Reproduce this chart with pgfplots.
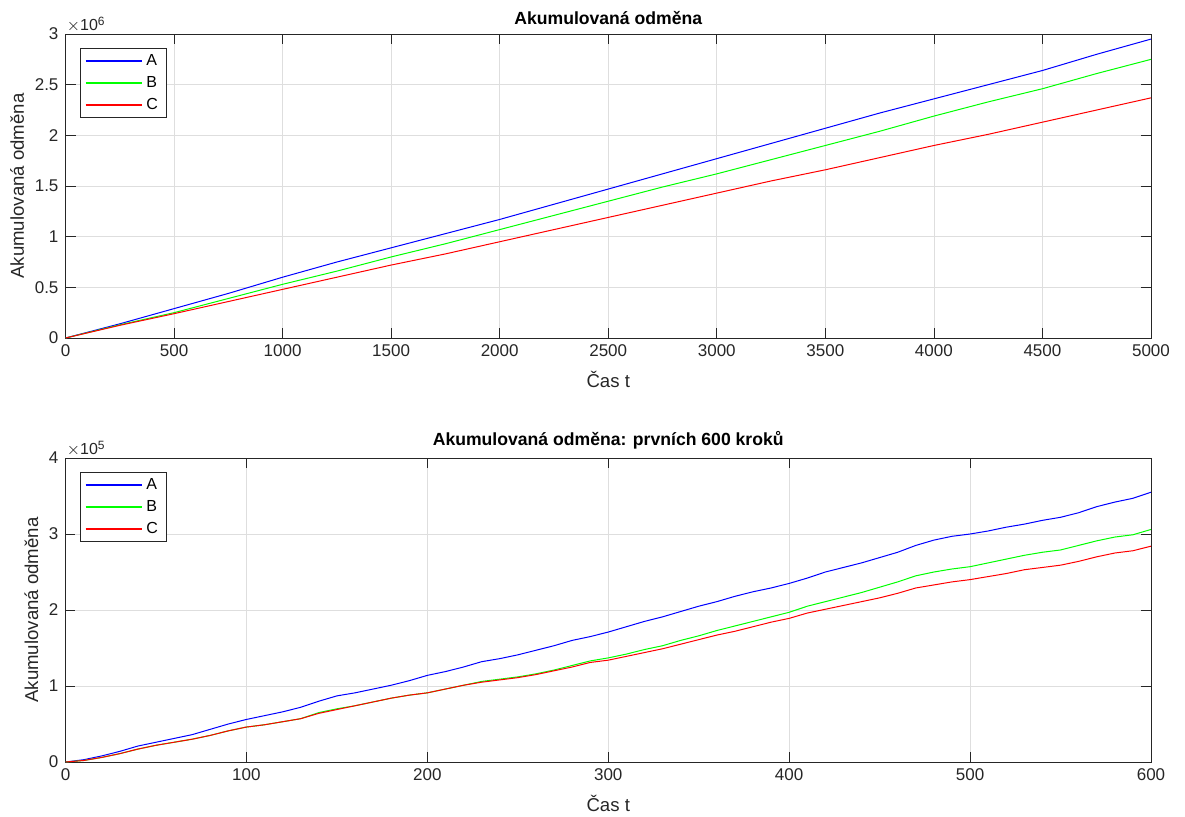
\documentclass[border=0pt]{standalone}
\usepackage{fontspec}
\setmainfont{Liberation Sans}
\setsansfont{Liberation Sans}
\usepackage{pgfplots}
\pgfplotsset{compat=1.18}

\definecolor{axgray}{rgb}{0.15,0.15,0.15}
\definecolor{gridgray}{rgb}{0.87,0.87,0.87}

% data, values in plain reward units
\pgfplotstableread{
t     A        B        C
0     0        0        0
250   140000   130000   125000
500   290000   250000   240000
750   440000   390000   360000
1000  600000   530000   480000
1250  750000   660000   600000
1500  890000   800000   720000
1750  1030000  930000   830000
2000  1170000  1070000  950000
2250  1320000  1210000  1070000
2500  1470000  1350000  1190000
2750  1620000  1490000  1310000
3000  1770000  1620000  1430000
3250  1920000  1760000  1550000
3500  2070000  1900000  1660000
3750  2220000  2040000  1780000
4000  2360000  2190000  1900000
4250  2500000  2330000  2010000
4500  2640000  2460000  2130000
4750  2800000  2610000  2250000
5000  2950000  2750000  2370000
}\fulltab

\pgfplotstableread{
t    A       B       C
0    0       0       0
10   3000    2000    2000
20   8000    6000    6000
30   14000   11000   11000
40   21000   17000   17000
50   26000   22000   22000
60   31000   26000   26000
70   36000   30000   30000
80   43000   35000   35000
90   50000   41000   41000
100  56000   46000   46000
110  61000   49000   49000
120  66000   53000   53000
130  72000   57000   57000
140  80000   65000   64000
150  87000   70000   69000
160  91000   74000   74000
170  96000   79000   79000
180  101000  84000   84000
190  107000  88000   88000
200  114000  91000   91000
210  119000  96000   96000
220  125000  101000  101000
230  132000  106000  105000
240  136000  109000  108000
250  141000  112000  111000
260  147000  116000  115000
270  153000  121000  120000
280  160000  127000  125000
290  165000  133000  131000
300  171000  137000  134000
310  178000  142000  139000
320  185000  148000  144000
330  191000  153000  149000
340  198000  160000  155000
350  205000  166000  161000
360  211000  173000  167000
370  218000  179000  172000
380  224000  185000  178000
390  229000  191000  184000
400  235000  197000  189000
410  242000  205000  196000
420  250000  211000  201000
430  256000  217000  206000
440  262000  223000  211000
450  269000  230000  216000
460  276000  237000  222000
470  285000  245000  229000
480  292000  250000  233000
490  297000  254000  237000
500  300000  257000  240000
510  304000  262000  244000
520  309000  267000  248000
530  313000  272000  253000
540  318000  276000  256000
550  322000  279000  259000
560  328000  285000  264000
570  336000  291000  270000
580  342000  296000  275000
590  347000  299000  278000
600  355000  306000  284000
}\firsttab

\pgfplotsset{
  mlstyle/.style={
    scale only axis,
    width=542.75pt, height=152pt,
    axis line style={axgray, line width=0.4pt},
    tick style={axgray, line width=0.4pt},
    tick align=inside,
    major tick length=5pt,
    xtick pos=both, ytick pos=both,
    grid=major,
    major grid style={gridgray, line width=0.4pt},
    font=\fontsize{8.5pt}{10pt}\selectfont,
    tick label style={font=\fontsize{8.5pt}{10pt}\selectfont, text=axgray},
    label style={font=\fontsize{9.3pt}{11pt}\selectfont, text=axgray},
    title style={font=\bfseries\fontsize{8.8pt}{10pt}\selectfont, yshift=-5pt},
    /pgf/number format/assume math mode=true,
    /pgf/number format/1000 sep={},
    scaled x ticks=false,
    ytick scale label code/.code={$\times$10\textsuperscript{##1}},
    every y tick scale label/.style={at={(rel axis cs:0,1)}, anchor=south west,
      inner sep=0.5pt, font=\fontsize{8pt}{9pt}\selectfont, text=axgray},
    xlabel={Čas t},
    ylabel={Akumulovaná odměna},
    xlabel style={at={(rel axis cs:0.5,0)}, anchor=center, yshift=-20.5pt},
    ylabel style={yshift=-1.5pt},
    legend cell align=left,
    legend style={at={(0.0138,0.954)}, anchor=north west,
      draw=axgray, inner xsep=2pt, inner ysep=0.8pt,
      font=\fontsize{8pt}{9pt}\selectfont, row sep=0pt},
    legend image code/.code={\draw[##1, line width=0.8pt] (0pt,0pt) -- (28pt,0pt);},
  },
  serA/.style={draw=blue, line width=0.5pt},
  serB/.style={draw=green, line width=0.5pt},
  serC/.style={draw=red, line width=0.5pt},
}

\begin{document}
\begin{tikzpicture}
\useasboundingbox (0,0) rectangle (592.5pt,-408pt);

\begin{axis}[mlstyle,
  at={(32.75pt,-169pt)}, anchor=south west,
  title={Akumulovaná odměna},
  xmin=0, xmax=5000, ymin=0, ymax=3000000,
  xtick={0,500,...,5000},
  ytick={0,500000,1000000,1500000,2000000,2500000,3000000},
  scaled y ticks=base 10:-6,
]
\addplot[serA] table[x=t, y=A] {\fulltab};
\addplot[serB] table[x=t, y=B] {\fulltab};
\addplot[serC] table[x=t, y=C] {\fulltab};
\legend{A, B, C}
\end{axis}

\begin{axis}[mlstyle,
  at={(32.75pt,-381pt)}, anchor=south west,
  title={Akumulovaná odměna: prvních 600 kroků},
  xmin=0, xmax=600, ymin=0, ymax=400000,
  xtick={0,100,...,600},
  ytick={0,100000,200000,300000,400000},
  scaled y ticks=base 10:-5,
]
\addplot[serA] table[x=t, y=A] {\firsttab};
\addplot[serB] table[x=t, y=B] {\firsttab};
\addplot[serC] table[x=t, y=C] {\firsttab};
\legend{A, B, C}
\end{axis}
\end{tikzpicture}
\end{document}
